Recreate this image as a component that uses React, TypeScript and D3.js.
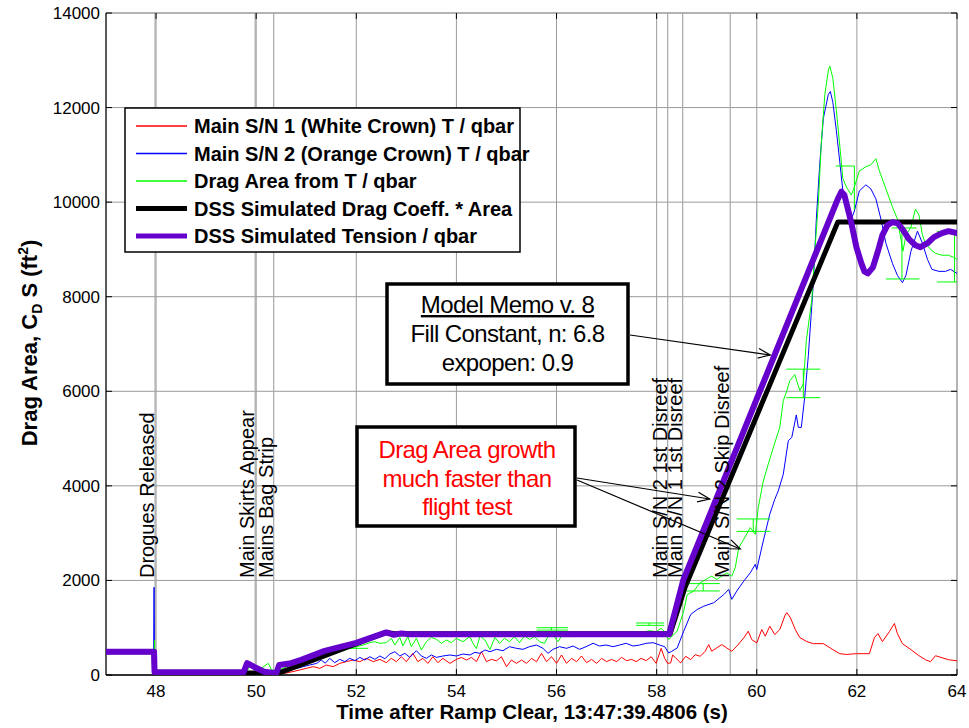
import React from 'react';
import * as d3 from 'd3';

const xTicks = [48, 50, 52, 54, 56, 58, 60, 62, 64];
const yTicks = [0, 2000, 4000, 6000, 8000, 10000, 12000, 14000];

const mainSN1: number[][] = [
  [47.97, 20], [49.8, 20], [50.0, 60], [50.3, 30], [50.6, 40], [50.87, 106], [51.0, 141], [51.14, 176], [51.27, 141], [51.4, 211],
  [51.54, 176], [51.67, 246], [51.8, 282], [51.94, 317], [52.07, 282], [52.2, 352], [52.34, 282], [52.47, 331], [52.6, 261], [52.7, 352],
  [52.8, 282], [52.9, 387], [53.0, 282], [53.13, 458], [53.23, 282], [53.33, 352], [53.43, 246], [53.53, 387], [53.63, 261], [53.73, 352],
  [53.87, 246], [54.0, 331], [54.1, 370], [54.2, 317], [54.3, 373], [54.4, 282], [54.5, 493], [54.6, 282], [54.7, 331], [54.8, 300],
  [54.9, 387], [55.0, 176], [55.1, 317], [55.2, 246], [55.3, 317], [55.4, 246], [55.5, 352], [55.6, 282], [55.7, 458], [55.8, 282],
  [55.9, 387], [56.0, 246], [56.1, 423], [56.2, 246], [56.3, 352], [56.4, 282], [56.5, 402], [56.6, 261], [56.7, 331], [56.8, 246],
  [56.9, 352], [57.0, 282], [57.1, 331], [57.2, 282], [57.3, 373], [57.4, 303], [57.5, 331], [57.59, 282], [57.69, 352], [57.79, 303],
  [57.89, 387], [57.99, 246], [58.09, 564], [58.16, 352], [58.22, 246], [58.28, 255], [58.32, 423], [58.38, 360], [58.48, 255], [58.58, 396],
  [58.68, 325], [58.77, 430], [58.87, 396], [58.97, 502], [59.04, 643], [59.1, 502], [59.2, 573], [59.3, 643], [59.4, 573], [59.5, 502],
  [59.6, 608], [59.74, 785], [59.83, 926], [59.9, 749], [60.0, 678], [60.1, 961], [60.17, 820], [60.26, 1032], [60.36, 855], [60.46, 960],
  [60.56, 1250], [60.6, 1319], [60.67, 1216], [60.77, 961], [60.86, 791], [61.0, 706], [61.13, 663], [61.33, 663], [61.52, 536], [61.66, 451],
  [61.79, 434], [61.99, 451], [62.25, 451], [62.35, 791], [62.42, 876], [62.51, 706], [62.65, 919], [62.75, 1089], [62.81, 876], [62.91, 663],
  [63.08, 536], [63.24, 408], [63.37, 323], [63.47, 281], [63.57, 408], [63.7, 366], [63.83, 323], [64, 300],
];

const mainSN2: number[][] = [
  [47.95, 20], [47.96, 1855], [47.97, 40], [49.8, 30], [50.0, 80], [50.2, 40], [50.54, 70], [50.67, 120], [50.81, 140], [50.94, 176],
  [51.07, 211], [51.21, 246], [51.3, 317], [51.38, 250], [51.47, 352], [51.57, 261], [51.67, 331], [51.77, 282], [51.87, 352], [51.97, 303],
  [52.07, 373], [52.17, 317], [52.27, 387], [52.37, 331], [52.47, 402], [52.57, 345], [52.67, 444], [52.77, 493], [52.87, 402], [52.97, 458],
  [53.07, 373], [53.2, 514], [53.3, 402], [53.4, 352], [53.5, 423], [53.6, 373], [53.73, 402], [53.87, 423], [54.0, 402], [54.13, 444],
  [54.27, 423], [54.37, 480], [54.47, 458], [54.57, 530], [54.67, 493], [54.8, 543], [54.93, 514], [55.06, 599], [55.2, 564], [55.33, 543],
  [55.46, 599], [55.6, 634], [55.73, 564], [55.83, 458], [55.93, 543], [56.06, 599], [56.2, 564], [56.33, 613], [56.46, 543], [56.59, 599],
  [56.73, 670], [56.86, 613], [56.99, 634], [57.13, 599], [57.26, 634], [57.39, 670], [57.53, 613], [57.66, 634], [57.79, 670], [57.93, 684],
  [58.06, 634], [58.16, 599], [58.24, 467], [58.3, 500], [58.41, 570], [58.54, 925], [58.68, 1280], [58.81, 1385], [58.94, 1455], [59.14, 1527],
  [59.34, 1700], [59.44, 1810], [59.5, 1600], [59.6, 1775], [59.74, 1985], [59.87, 2160], [59.97, 2340], [60.0, 2230], [60.13, 2834], [60.26, 3400],
  [60.36, 3717], [60.43, 3894], [60.53, 4247], [60.63, 4954], [60.7, 5025], [60.79, 5500], [60.83, 5237], [60.89, 5237], [60.96, 5900], [61.03, 6750],
  [61.13, 8280], [61.19, 9643], [61.26, 10834], [61.33, 11770], [61.43, 12280], [61.47, 12340], [61.52, 12110], [61.59, 11515], [61.66, 10834], [61.72, 10238],
  [61.79, 9898], [61.89, 9643], [61.95, 9813], [62.05, 10238], [62.18, 10366], [62.28, 10280], [62.38, 10068], [62.48, 9643], [62.58, 9130], [62.71, 8706],
  [62.81, 8450], [62.91, 8298], [62.98, 8450], [63.08, 8962], [63.21, 9387], [63.31, 9130], [63.41, 8790], [63.5, 8578], [63.64, 8536], [63.77, 8536],
  [63.87, 8578], [64, 8494],
];

const dragArea: number[][] = [
  [47.95, 20], [47.97, 740], [47.98, 40], [49.8, 40], [49.87, 176], [50.01, 176], [50.1, 140], [50.24, 246], [50.31, 106], [50.41, 90],
  [50.54, 140], [50.67, 211], [50.81, 246], [50.94, 282], [51.07, 317], [51.21, 373], [51.34, 423], [51.47, 472], [51.6, 528], [51.74, 543],
  [51.87, 564], [52.0, 599], [52.14, 634], [52.27, 684], [52.37, 705], [52.47, 670], [52.6, 684], [52.7, 775], [52.77, 634], [52.87, 796],
  [52.93, 613], [53.03, 810], [53.1, 599], [53.2, 775], [53.3, 528], [53.4, 705], [53.5, 796], [53.6, 754], [53.7, 670], [53.8, 740],
  [53.9, 684], [54.0, 775], [54.13, 705], [54.27, 810], [54.33, 670], [54.4, 560], [54.47, 825], [54.57, 740], [54.67, 540], [54.77, 796],
  [54.86, 670], [54.96, 775], [55.06, 705], [55.16, 810], [55.26, 684], [55.36, 825], [55.46, 754], [55.56, 810], [55.66, 705], [55.76, 670],
  [55.83, 810], [55.93, 846], [56.03, 705], [56.13, 881], [56.26, 810], [56.4, 846], [56.53, 881], [56.66, 825], [56.79, 881], [56.93, 846],
  [57.06, 881], [57.19, 860], [57.33, 881], [57.46, 867], [57.59, 895], [57.73, 909], [57.86, 937], [57.99, 916], [58.09, 987], [58.16, 916],
  [58.24, 750], [58.41, 925], [58.54, 1350], [58.61, 1700], [58.74, 1775], [58.87, 1950], [59.04, 2057], [59.1, 2090], [59.2, 2020], [59.4, 2160],
  [59.5, 2090], [59.57, 2270], [59.64, 2690], [59.74, 2870], [59.87, 3117], [59.97, 2975], [60.03, 3540], [60.13, 4100], [60.23, 4460], [60.33, 4810],
  [60.46, 5240], [60.53, 5800], [60.6, 6010], [60.66, 6225], [60.76, 6353], [60.86, 6014], [60.93, 6155], [60.99, 7075], [61.1, 7940], [61.16, 8960],
  [61.23, 9983], [61.29, 11260], [61.36, 12280], [61.43, 12790], [61.46, 12877], [61.52, 12620], [61.59, 11940], [61.66, 11175], [61.72, 10500], [61.79, 10323],
  [61.89, 10150], [61.95, 10323], [62.05, 10660], [62.18, 10750], [62.28, 10790], [62.38, 10920], [62.45, 10660], [62.58, 10280], [62.71, 9900], [62.81, 9643],
  [62.88, 9217], [62.92, 8962], [62.98, 9300], [63.08, 9470], [63.17, 9855], [63.24, 9728], [63.31, 9300], [63.37, 9130], [63.47, 9004], [63.57, 8919],
  [63.7, 8877], [63.83, 8877], [63.93, 8834], [64, 8790],
];

// green error-bar style caps: [t1, t2, value]
const dragAreaCaps: number[][] = [
  [51.8, 52.24, 564], [55.6, 56.23, 1000], [55.6, 56.23, 950], [57.59, 58.15, 1100], [57.59, 58.15, 1050],
  [58.6, 59.26, 1933], [58.6, 59.26, 1777], [59.6, 60.27, 3300], [59.6, 60.27, 3037], [60.59, 61.27, 6468],
  [60.59, 61.27, 5865], [61.58, 61.95, 10765], [62.7, 63.19, 9454], [62.58, 63.25, 8375], [63.6, 64, 8312], [63.6, 63.95, 9380],
];
// green vertical connectors: [t, v1, v2]
const dragAreaBars: number[][] = [
  [58.93, 1777, 1933], [59.93, 3037, 3300], [60.93, 5865, 6468], [61.95, 9835, 10765], [62.9, 8375, 9454], [63.95, 8312, 9380],
  [55.9, 950, 1000], [57.85, 1050, 1100],
];

const dssCdA: number[][] = [
  [47, 490], [47.96, 490], [47.97, 40], [50.45, 40], [52.6, 900], [52.8, 870], [58.27, 870], [58.57, 1860], [61.62, 9580], [64, 9580],
];

const dssTension: number[][] = [
  [47, 490], [47.96, 490], [47.97, 60], [49.75, 60], [49.82, 250], [49.96, 170], [50.16, 70], [50.4, 35], [50.46, 210], [50.7, 250],
  [50.9, 320], [51.37, 510], [52.0, 680], [52.6, 900], [52.75, 850], [52.9, 880], [53.05, 860], [58.25, 860], [58.53, 2000], [61.62, 10068],
  [61.69, 10220], [61.75, 10150], [61.79, 9983], [61.89, 9557], [61.99, 9047], [62.09, 8706], [62.15, 8536], [62.22, 8494], [62.32, 8621], [62.42, 8962],
  [62.51, 9302], [62.61, 9515], [62.71, 9575], [62.81, 9557], [62.91, 9430], [63.04, 9217], [63.17, 9090], [63.27, 9047], [63.41, 9132], [63.54, 9260],
  [63.7, 9345], [63.83, 9387], [64, 9345],
];

const eventTimes = [47.98, 49.98, 50.35, 58.22, 58.52, 59.47];
const eventLabels = ['Drogues Released', 'Main Skirts Appear', 'Mains Bag Strip', 'Main S/N 2 1st Disreef', 'Main S/N 1 1st Disreef', 'Main S/N 2 Skip Disreef'];

const legendLabels = [
  'Main S/N 1 (White Crown) T / qbar',
  'Main S/N 2 (Orange Crown) T / qbar',
  'Drag Area from T / qbar',
  'DSS Simulated Drag Coeff. * Area',
  'DSS Simulated Tension / qbar',
];
const seriesColors = ['#ff0000', '#0000ff', '#00ff00', '#000000', '#6600cc'];
const seriesWidths = [1, 1, 1, 5, 6];

const memoLines = ['Model Memo v. 8', 'Fill Constant, n: 6.8', 'expopen: 0.9'];
const noteLines = ['Drag Area growth', 'much faster than', 'flight test'];
// arrow targets in data coordinates [t, value]
const memoArrowTarget = [60.27, 6768];
const noteArrowTargets = [[59.06, 3722], [59.67, 2665]];

const FONT = "'Liberation Sans', Arial, Helvetica, sans-serif";

function Arrow({ x1, y1, x2, y2 }: { x1: number; y1: number; x2: number; y2: number }) {
  const a = Math.atan2(y2 - y1, x2 - x1);
  const L = 13;
  const s = 0.38;
  const p1 = [x2 - L * Math.cos(a - s), y2 - L * Math.sin(a - s)];
  const p2 = [x2 - L * Math.cos(a + s), y2 - L * Math.sin(a + s)];
  return (
    <g stroke="#000" strokeWidth={1.2} fill="none">
      <line x1={x1} y1={y1} x2={x2} y2={y2} />
      <polyline points={`${p1[0]},${p1[1]} ${x2},${y2} ${p2[0]},${p2[1]}`} />
    </g>
  );
}

export default function App() {
  const W = 969, H = 728;
  const L = 106, R = 957, T = 13, B = 675;
  const x = d3.scaleLinear().domain([47, 64]).range([L, R]);
  const y = d3.scaleLinear().domain([0, 14000]).range([B, T]);
  const line = d3.line<number[]>().x((d) => x(d[0])).y((d) => y(d[1]));
  const series = [mainSN1, mainSN2, dragArea, dssCdA, dssTension];
  const grid = '#9a9a9a';

  const memoBox = { x: 387, y: 284, w: 241, h: 100 };
  const noteBox = { x: 357, y: 427, w: 218, h: 99 };

  return (
    <svg width={W} height={H} style={{ position: 'absolute', left: 0, top: 0, background: '#fff' }} fontFamily={FONT}>
      <rect x={0} y={0} width={W} height={H} fill="#fff" />
      <defs>
        <clipPath id="plotclip">
          <rect x={L} y={T} width={R - L} height={B - T} />
        </clipPath>
      </defs>
      {/* grid */}
      {xTicks.map((t) => (
        <line key={'gx' + t} x1={x(t)} x2={x(t)} y1={T} y2={B} stroke={grid} strokeWidth={1} />
      ))}
      {yTicks.map((v) => (
        <line key={'gy' + v} x1={L} x2={R} y1={y(v)} y2={y(v)} stroke={grid} strokeWidth={1} />
      ))}
      {/* event lines */}
      {eventTimes.map((t, i) => (
        <line key={'ev' + i} x1={x(t)} x2={x(t)} y1={T} y2={B} stroke="#a8a8a8" strokeWidth={1.2} />
      ))}
      {/* frame */}
      <line x1={L} x2={R} y1={T} y2={T} stroke={grid} strokeWidth={1} />
      <line x1={R} x2={R} y1={T} y2={B} stroke={grid} strokeWidth={1} />
      <line x1={L} x2={L} y1={T} y2={B} stroke="#000" strokeWidth={1.3} />
      <line x1={L} x2={R} y1={B} y2={B} stroke="#000" strokeWidth={1.3} />
      {/* ticks */}
      {xTicks.map((t) => (
        <g key={'tx' + t}>
          <line x1={x(t)} x2={x(t)} y1={B} y2={B - 6} stroke="#000" strokeWidth={1} />
          <line x1={x(t)} x2={x(t)} y1={T} y2={T + 6} stroke="#000" strokeWidth={1} />
          <text x={x(t)} y={697} textAnchor="middle" fontSize={17}>{t}</text>
        </g>
      ))}
      {yTicks.map((v) => (
        <g key={'ty' + v}>
          <line x1={L} x2={L + 6} y1={y(v)} y2={y(v)} stroke="#000" strokeWidth={1} />
          <line x1={R} x2={R - 6} y1={y(v)} y2={y(v)} stroke="#000" strokeWidth={1} />
          <text x={100} y={y(v) + 6} textAnchor="end" fontSize={17}>{v}</text>
        </g>
      ))}
      {/* data */}
      <g clipPath="url(#plotclip)" fill="none">
        {series.map((s, i) => (
          <path key={'s' + i} d={line(s) || ''} stroke={seriesColors[i]} strokeWidth={seriesWidths[i]}
            strokeLinejoin="round" strokeLinecap="butt" />
        )).slice(0, 3)}
        {dragAreaCaps.map((c, i) => (
          <line key={'cap' + i} x1={x(c[0])} x2={x(c[1])} y1={y(c[2])} y2={y(c[2])} stroke="#00ff00" strokeWidth={1} />
        ))}
        {dragAreaBars.map((c, i) => (
          <line key={'bar' + i} x1={x(c[0])} x2={x(c[0])} y1={y(c[1])} y2={y(c[2])} stroke="#00ff00" strokeWidth={1} />
        ))}
        {series.map((s, i) => (
          <path key={'s' + i} d={line(s) || ''} stroke={seriesColors[i]} strokeWidth={seriesWidths[i]}
            strokeLinejoin="round" strokeLinecap="round" />
        )).slice(3)}
      </g>
      {/* event labels */}
      {eventLabels.map((lab, i) => (
        <text key={'el' + i} transform={`translate(${x(eventTimes[i]) - 1},578) rotate(-90)`} fontSize={20}>{lab}</text>
      ))}
      {/* legend */}
      <rect x={125} y={108} width={395} height={144} fill="#fff" stroke="#000" strokeWidth={1.5} />
      {legendLabels.map((lab, i) => {
        const ly = 126 + i * 27.5;
        return (
          <g key={'lg' + i}>
            <line x1={136} x2={187} y1={ly} y2={ly} stroke={seriesColors[i]} strokeWidth={i >= 3 ? 5 : 1.3} />
            <text x={194} y={ly + 7} fontSize={20} fontWeight="bold">{lab}</text>
          </g>
        );
      })}
      {/* memo box */}
      <Arrow x1={memoBox.x + memoBox.w + 2} y1={335} x2={x(memoArrowTarget[0])} y2={y(memoArrowTarget[1])} />
      <rect x={memoBox.x} y={memoBox.y} width={memoBox.w} height={memoBox.h} fill="#fff" stroke="#000" strokeWidth={3.5} />
      {memoLines.map((t, i) => (
        <text key={'ml' + i} x={memoBox.x + memoBox.w / 2} y={313 + i * 29} textAnchor="middle" fontSize={24} letterSpacing={-0.6}
          style={{ textDecoration: i === 0 ? 'underline' : 'none' }}>{t}</text>
      ))}
      {/* note box */}
      {noteArrowTargets.map((p, i) => (
        <Arrow key={'na' + i} x1={noteBox.x + noteBox.w + 2} y1={478 + i * 2} x2={x(p[0])} y2={y(p[1])} />
      ))}
      <rect x={noteBox.x} y={noteBox.y} width={noteBox.w} height={noteBox.h} fill="#fff" stroke="#000" strokeWidth={3.5} />
      {noteLines.map((t, i) => (
        <text key={'nl' + i} x={noteBox.x + noteBox.w / 2 + 1} y={458 + i * 28.5} textAnchor="middle" fontSize={24} letterSpacing={-0.6} fill="#ff0000">{t}</text>
      ))}
      {/* axis labels */}
      <text x={532} y={719} textAnchor="middle" fontSize={20.5} fontWeight="bold">Time after Ramp Clear, 13:47:39.4806 (s)</text>
      <text transform="translate(37,343) rotate(-90)" textAnchor="middle" fontSize={22} fontWeight="bold">
        Drag Area, C<tspan fontSize={14} dy={5}>D</tspan><tspan dy={-5}> S (ft</tspan><tspan fontSize={14} dy={-9}>2</tspan><tspan dy={9}>)</tspan>
      </text>
    </svg>
  );
}
